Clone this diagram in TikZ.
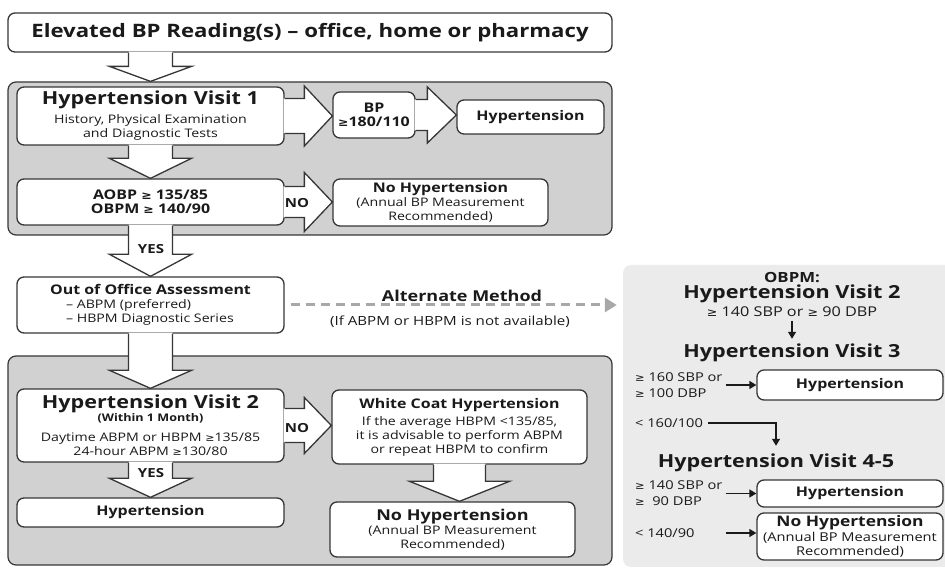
\documentclass[tikz,border=0pt]{standalone}
\usepackage{fontspec}
\setmainfont{Open Sans}[FakeStretch=1.2]
\newfontfamily\symf{DejaVu Sans}[Scale=0.85,FakeStretch=1.1]
\usetikzlibrary{calc,arrows.meta}
\definecolor{panelgray}{HTML}{D1D1D1}
\definecolor{lightpanel}{HTML}{EBEBEB}
\definecolor{edge}{HTML}{363636}
\definecolor{ink}{HTML}{1A1A1A}
\definecolor{dashgray}{HTML}{A8A8A8}
\newcommand\gq{{\symf ≥}}
\newcommand\ftitle{\fontsize{18.5}{22}\selectfont\bfseries}
\newcommand\fhead{\fontsize{18}{19}\selectfont\bfseries}
\newcommand\fbold{\fontsize{13.3}{14}\selectfont\bfseries}
\newcommand\freg{\fontsize{11.8}{14}\selectfont}
\newcommand\frreg{\fontsize{12.2}{16}\selectfont}
\newcommand\fsub{\fontsize{10.5}{14}\selectfont\bfseries}
\newcommand\flab{\fontsize{12.5}{14}\selectfont\bfseries}
\lineskiplimit=-100pt
% vertical hollow arrow: start, tip, shaft half, head half, head length
\newcommand\vbig[5]{%
  \fill[white] let \p1=#1, \p2=#2 in
    (\x1-#3pt,\y1+1pt) -- (\x1-#3pt,\y2+#5pt) -- (\x1-#4pt,\y2+#5pt) -- (\x1,\y2)
    -- (\x1+#4pt,\y2+#5pt) -- (\x1+#3pt,\y2+#5pt) -- (\x1+#3pt,\y1+1pt) -- cycle;
  \draw[bigline] let \p1=#1, \p2=#2 in
    (\x1-#3pt,\y1) -- (\x1-#3pt,\y2+#5pt) -- (\x1-#4pt,\y2+#5pt) -- (\x1,\y2)
    -- (\x1+#4pt,\y2+#5pt) -- (\x1+#3pt,\y2+#5pt) -- (\x1+#3pt,\y1);
}
% horizontal hollow arrow: start, tip, shaft half, head half, head length
\newcommand\hbig[5]{%
  \fill[white] let \p1=#1, \p2=#2 in
    (\x1-1pt,\y1+#3pt) -- (\x2-#5pt,\y1+#3pt) -- (\x2-#5pt,\y1+#4pt) -- (\x2,\y1)
    -- (\x2-#5pt,\y1-#4pt) -- (\x2-#5pt,\y1-#3pt) -- (\x1-1pt,\y1-#3pt) -- cycle;
  \draw[bigline] let \p1=#1, \p2=#2 in
    (\x1,\y1+#3pt) -- (\x2-#5pt,\y1+#3pt) -- (\x2-#5pt,\y1+#4pt) -- (\x2,\y1)
    -- (\x2-#5pt,\y1-#4pt) -- (\x2-#5pt,\y1-#3pt) -- (\x1,\y1-#3pt);
}
\begin{document}
\begin{tikzpicture}[x=1pt,y=1pt,
  box/.style={draw=edge, fill=white, line width=1.3pt, rounded corners=7pt,
    inner sep=0pt, align=center, text=ink, font=\freg},
  panel/.style={draw=edge, fill=panelgray, line width=1.2pt, rounded corners=8pt, inner sep=0pt},
  bigline/.style={draw=edge, line width=1.3pt, line join=miter},
  lbl/.style={text=ink, inner sep=0pt},
  thinarrow/.style={line width=1.3pt, draw=ink, -{Triangle[length=7pt,width=8pt]}},
  dashline/.style={draw=dashgray, line width=3pt, dash pattern=on 9pt off 6pt,
    -{Triangle[length=12pt,width=14pt]}}]
\useasboundingbox (0,0) rectangle (945,569);

% panels
\node[panel, minimum width=604pt, minimum height=153pt] (panelA) at (310,410.5) {};
\node[panel, minimum width=604pt, minimum height=209pt] (panelB) at (310,108.5) {};
\node[fill=lightpanel, rounded corners=8pt, inner sep=0pt,
      minimum width=330pt, minimum height=302pt] (panelC) at (788,153) {};

% top
\node[box, font=\ftitle, minimum width=604pt, minimum height=39pt] (top) at (310,536.5)
  {Elevated BP Reading(s) – office, home or pharmacy};

% visit 1 panel
\node[box, minimum width=267pt, minimum height=58pt] (v1) at (150.5,453)
  {{\fhead Hypertension Visit 1}\\[5pt]History, Physical Examination\\and Diagnostic Tests};
\node[box, font=\fbold, minimum width=82pt, minimum height=46pt] (bp) at (374,454)
  {BP\\\gq180/110};
\node[box, font=\fbold, minimum width=147pt, minimum height=34pt] (hyp1) at (530.5,452)
  {Hypertension};
\node[box, font=\fbold, minimum width=267pt, minimum height=46pt] (aobp) at (150.5,367)
  {AOBP \gq\ 135/85\\OBPM \gq\ 140/90};
\node[box, minimum width=215pt, minimum height=47pt] (nohyp1) at (440.5,366.5)
  {{\fbold No Hypertension}\\[0.5pt](Annual BP Measurement\\Recommended)};

% out of office
\node[box, align=left, minimum width=267pt, minimum height=56pt] (ooa) at (150.5,264)
  {{\fbold Out of Office Assessment}\\\hspace*{16pt}– ABPM (preferred)\\\hspace*{16pt}– HBPM Diagnostic Series};

% visit 2 panel
\node[box, minimum width=267pt, minimum height=73pt] (v2) at (150.5,143.5)
  {{\fhead Hypertension Visit 2}\\[-1pt]{\fsub (Within 1 Month)}\\[6pt]Daytime ABPM or HBPM \gq135/85\\24-hour ABPM \gq130/80};
\node[box, minimum width=255pt, minimum height=74pt] (wc) at (459.5,142)
  {{\fbold White Coat Hypertension}\\[3pt]If the average HBPM <135/85,\\it is advisable to perform ABPM\\or repeat HBPM to confirm};
\node[box, font=\fbold, minimum width=267pt, minimum height=29pt] (hyp2) at (150.5,56.5)
  {Hypertension};
\node[box, minimum width=245pt, minimum height=55pt] (nohyp2) at (452.5,39.5)
  {{\fbold\fontsize{15}{14}\selectfont No Hypertension}\\(Annual BP Measurement\\Recommended)};

% big hollow arrows
\vbig{(top.south -| v1.north)}{(panelA.north -| v1.north)}{22}{41}{15}
\vbig{(v1.south)}{(aobp.north)}{22}{41}{20}
\vbig{(aobp.south)}{(ooa.north)}{22}{41}{22}
\vbig{(ooa.south)}{(v2.north)}{22}{41}{18}
\vbig{(v2.south)}{(hyp2.north)}{22}{41}{19}
\vbig{(wc.south)}{(nohyp2.north -| wc.south)}{26}{50}{20}
\hbig{(v1.east)}{(bp.west)}{17.5}{30}{28}
\hbig{(bp.east)}{(hyp1.west)}{15.5}{28}{29}
\hbig{(aobp.east)}{(nohyp1.west)}{15.5}{29.5}{28}
\hbig{(v2.east)}{(wc.west)}{17}{28}{27}

% arrow labels
\node[lbl, font=\flab] (no1) at (297,366) {NO};
\node[lbl, font=\flab] (no2) at (297,141) {NO};
\node[lbl, font=\flab] (yes1) at (151,320) {YES};
\node[lbl, font=\flab] (yes2) at (151,96) {YES};

% alternate method
\node[lbl, font=\bfseries\fontsize{15}{16}\selectfont] (alt1) at (462,273) {Alternate Method};
\node[lbl, font=\fontsize{12.6}{14}\selectfont] (alt2) at (450,247) {(If ABPM or HBPM is not available)};
\draw[dashline, shorten <=6pt, shorten >=6pt] (ooa.east) -- (panelC.west |- ooa.east);

% right panel
\node[lbl, font=\bfseries\fontsize{14}{14}\selectfont] (obpm) at (792,291) {OBPM:};
\node[lbl, font=\fhead] (rv2) at (792,275) {Hypertension Visit 2};
\node[lbl, font=\fontsize{13.5}{14}\selectfont] (rv2c) at (792,257) {\gq\ 140 SBP or \gq\ 90 DBP};
\node[lbl, font=\fhead] (rv3) at (792,216) {Hypertension Visit 3};
\node[lbl, font=\frreg, align=left, anchor=west] (t160) at (635,184) {\gq\ 160 SBP or\\\gq\ 100 DBP};
\node[box, font=\fbold, minimum width=186pt, minimum height=30pt] (h3) at (850,184) {Hypertension};
\node[lbl, font=\frreg, anchor=west] (l160) at (635,146) {< 160/100};
\node[lbl, font=\fhead] (rv45) at (776,106) {Hypertension Visit 4-5};
\node[lbl, font=\frreg, align=left, anchor=west] (t140) at (635,75.5) {\gq\ 140 SBP or\\\gq\ \ 90 DBP};
\node[box, font=\fbold, minimum width=186pt, minimum height=27pt] (h45) at (850,75.5) {Hypertension};
\node[lbl, font=\frreg, anchor=west] (l140) at (635,36) {< 140/90};
\node[box, font=\fontsize{12.2}{14}\selectfont, minimum width=186pt, minimum height=47pt] (nh45) at (850,32.5)
  {{\fbold\fontsize{14.5}{14}\selectfont No Hypertension}\\[0.5pt](Annual BP Measurement\\[0.5pt]Recommended)};

\draw[thinarrow, shorten <=4pt, shorten >=5pt] (rv2c.south) -- (rv3.north);
\draw[thinarrow, shorten <=3pt] (t160.east) -- (h3.west);
\draw[thinarrow, shorten <=5pt, shorten >=8pt] (l160.east) -| (rv45.north);
\draw[thinarrow, shorten <=3pt] (t140.east) -- (h45.west);
\draw[thinarrow, shorten <=3pt] (t140.east |- l140) -- (nh45.west |- l140);
\end{tikzpicture}
\end{document}
